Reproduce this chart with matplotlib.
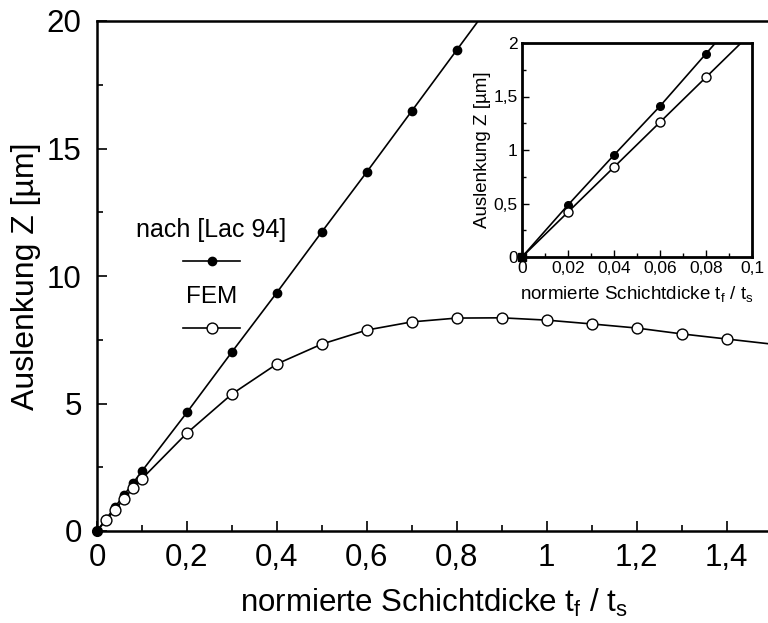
import numpy as np
import matplotlib
matplotlib.use("Agg")
import matplotlib.pyplot as plt
from matplotlib.ticker import MultipleLocator, FixedLocator, FixedFormatter
from matplotlib.lines import Line2D

plt.rcParams['font.family'] = ['Liberation Sans', 'DejaVu Sans']
plt.rcParams['mathtext.default'] = 'regular'

# normalised layer thickness t_f / t_s
x_lac = [0, 0.02, 0.04, 0.06, 0.08, 0.1, 0.2, 0.3, 0.4, 0.5, 0.6, 0.7, 0.8]
z_lac = [0, 0.47, 0.94, 1.41, 1.88, 2.35, 4.65, 7.02, 9.35, 11.73, 14.08, 16.47, 18.86]

x_fem = [0, 0.02, 0.04, 0.06, 0.08, 0.1, 0.2, 0.3, 0.4, 0.5, 0.6, 0.7, 0.8,
         0.9, 1.0, 1.1, 1.2, 1.3, 1.4]
z_fem = [0, 0.42, 0.84, 1.26, 1.68, 2.05, 3.84, 5.37, 6.55, 7.33, 7.88, 8.2, 8.35,
         8.36, 8.27, 8.12, 7.96, 7.73, 7.53]

# inset: small thickness range
xi_lac = [0, 0.02, 0.04, 0.06, 0.08]
zi_lac = [0, 0.486, 0.953, 1.41, 1.90]
xi_fem = [0, 0.02, 0.04, 0.06, 0.08]
zi_fem = [0, 0.42, 0.84, 1.26, 1.68]

main_xticks = [0, 0.2, 0.4, 0.6, 0.8, 1.0, 1.2, 1.4]
main_xlabels = ['0', '0,2', '0,4', '0,6', '0,8', '1', '1,2', '1,4']
main_yticks = [0, 5, 10, 15, 20]
main_ylabels = ['0', '5', '10', '15', '20']
ins_xticks = [0, 0.02, 0.04, 0.06, 0.08, 0.1]
ins_xlabels = ['0', '0,02', '0,04', '0,06', '0,08', '0,1']
ins_yticks = [0, 0.5, 1, 1.5, 2]
ins_ylabels = ['0', '0,5', '1', '1,5', '2']

label_x = r'normierte Schichtdicke t$_\mathregular{f}$ / t$_\mathregular{s}$'
label_y = 'Auslenkung Z [µm]'


def extend(xs, ys, x_end):
    """Continue the curve linearly past its last point up to x_end."""
    xs = list(xs); ys = list(ys)
    slope = (ys[-1] - ys[-2]) / (xs[-1] - xs[-2])
    return xs + [x_end], ys + [ys[-1] + slope * (x_end - xs[-1])]


W, H = 768, 623
TOP, BOT, LEFT, RIGHT = 21, 531, 97, 771.5
fig = plt.figure(figsize=(W / 100, H / 100), dpi=100)
ax = fig.add_axes([LEFT / W, (H - BOT) / H, (RIGHT - LEFT) / W, (BOT - TOP) / H])

lw = 1.2
lx, ly = extend(x_lac, z_lac, 0.9)
ax.plot(lx, ly, color='black', lw=lw)
ax.plot(x_lac, z_lac, 'o', color='black', ms=6, mfc='black', mec='black',
        clip_on=False, zorder=3)
fx, fy = extend(x_fem, z_fem, 1.5)
ax.plot(fx, fy, color='black', lw=lw)
ax.plot(x_fem[1:], z_fem[1:], 'o', ms=7.8, mfc='white', mec='black', mew=1.0,
        clip_on=False, zorder=3)
ax.plot([0], [0], 'o', color='black', ms=7, clip_on=False, zorder=4)

ax.set_xlim(0, 1.5)
ax.set_ylim(0, 20)
ax.xaxis.set_major_locator(FixedLocator(main_xticks))
ax.xaxis.set_major_formatter(FixedFormatter(main_xlabels))
ax.xaxis.set_minor_locator(MultipleLocator(0.1))
ax.yaxis.set_major_locator(FixedLocator(main_yticks))
ax.yaxis.set_major_formatter(FixedFormatter(main_ylabels))
ax.yaxis.set_minor_locator(MultipleLocator(2.5))
ax.tick_params(which='both', direction='in', top=False, right=False,
               labelsize=22.5, width=1.2)
ax.tick_params(which='major', length=7)
ax.tick_params(which='minor', length=4)
ax.tick_params(axis='x', which='major', pad=9)
ax.tick_params(axis='y', which='major', pad=11)
for s in ax.spines.values():
    s.set_linewidth(1.8)
ax.set_xlabel(label_x, fontsize=22.5, labelpad=10)
ax.set_ylabel(label_y, fontsize=23, labelpad=4)

# legend drawn by hand: caption above each marker sample
def fx_(px):
    return (px - LEFT) / (RIGHT - LEFT)

def fy_(py):
    return (BOT - py) / (BOT - TOP)

ax.text(fx_(211), fy_(230), 'nach [Lac 94]', transform=ax.transAxes,
        ha='center', va='center', fontsize=18)
ax.add_line(Line2D([fx_(183), fx_(240)], [fy_(261), fy_(261)], color='black',
                   lw=lw, transform=ax.transAxes))
ax.add_line(Line2D([fx_(212)], [fy_(261)], marker='o', ms=6, color='black',
                   transform=ax.transAxes))
ax.text(fx_(212), fy_(297), 'FEM', transform=ax.transAxes,
        ha='center', va='center', fontsize=17.5)
ax.add_line(Line2D([fx_(183), fx_(240)], [fy_(328), fy_(328)], color='black',
                   lw=lw, transform=ax.transAxes))
ax.add_line(Line2D([fx_(212)], [fy_(328)], marker='o', ms=7.8, mfc='white',
                   mec='black', transform=ax.transAxes))

# inset: zoom on the thin-layer range
ins = fig.add_axes([522 / W, (H - 257) / H, (752 - 522) / W, (257 - 43) / H])
ix, iy = extend(xi_lac, zi_lac, 0.1)
ins.plot(ix, iy, color='black', lw=1.2)
ins.plot(xi_lac, zi_lac, 'o', color='black', ms=5.5, clip_on=False, zorder=3)
jx, jy = extend(xi_fem, zi_fem, 0.1)
ins.plot(jx, jy, color='black', lw=1.2)
ins.plot(xi_fem[1:], zi_fem[1:], 'o', ms=6.5, mfc='white', mec='black', mew=1.0,
         clip_on=False, zorder=3)
ins.plot([0], [0], 's', color='black', ms=5.5, clip_on=False, zorder=4)
ins.set_xlim(0, 0.1)
ins.set_ylim(0, 2)
ins.xaxis.set_major_locator(FixedLocator(ins_xticks))
ins.xaxis.set_major_formatter(FixedFormatter(ins_xlabels))
ins.xaxis.set_minor_locator(MultipleLocator(0.01))
ins.yaxis.set_major_locator(FixedLocator(ins_yticks))
ins.yaxis.set_major_formatter(FixedFormatter(ins_ylabels))
ins.yaxis.set_minor_locator(MultipleLocator(0.25))
ins.tick_params(which='both', direction='in', labelsize=12.5, width=1.0, pad=3)
ins.tick_params(which='major', length=5)
ins.tick_params(which='minor', length=3)
for s in ins.spines.values():
    s.set_linewidth(2.0)
ins.set_xlabel(label_x, fontsize=13.5, labelpad=6)
ins.set_ylabel(label_y, fontsize=13.5, labelpad=2)

fig.savefig('out.png', dpi=100)
